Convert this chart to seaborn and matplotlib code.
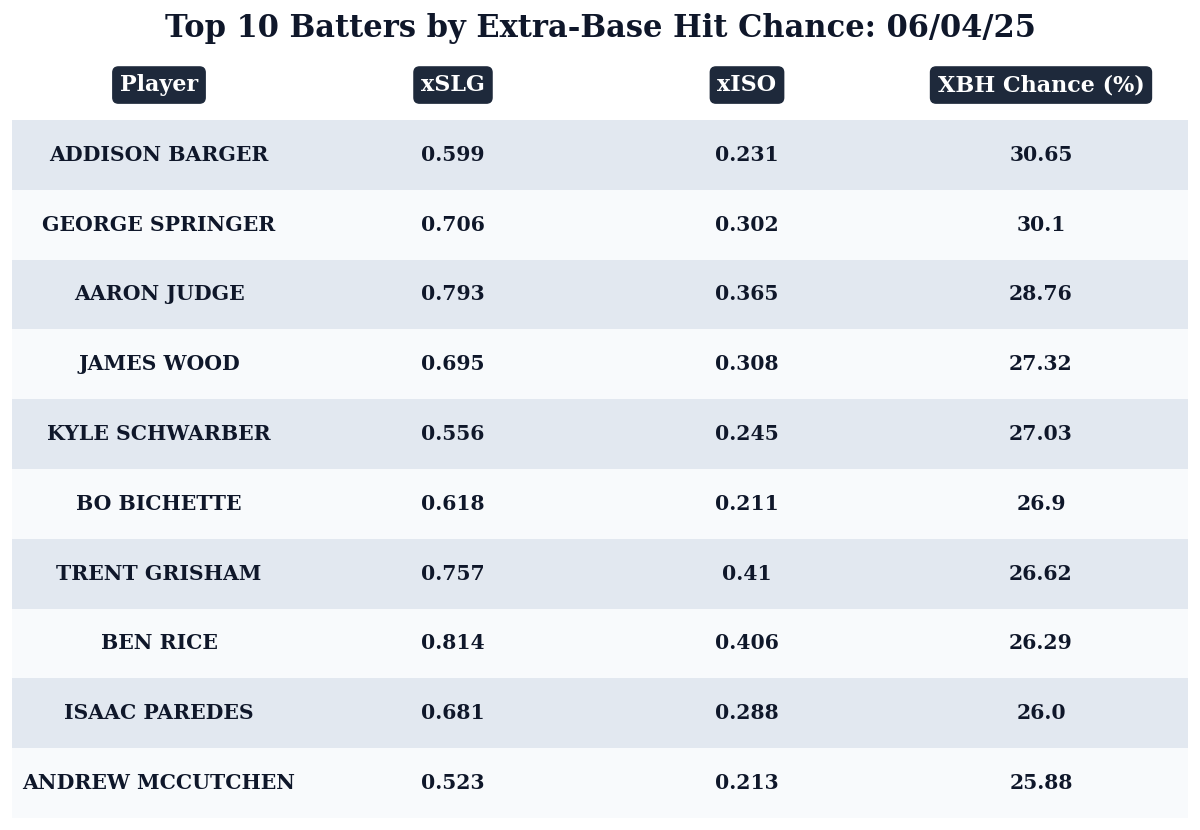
import numpy as np
import pandas as pd
import matplotlib
matplotlib.use("Agg")
import matplotlib.pyplot as plt
from matplotlib.colors import ListedColormap
import seaborn as sns

title = "Top 10 Batters by Extra-Base Hit Chance: 06/04/25"
columns = ["Player", "xSLG", "xISO", "XBH Chance (%)"]
players = ["ADDISON BARGER", "GEORGE SPRINGER", "AARON JUDGE", "JAMES WOOD",
           "KYLE SCHWARBER", "BO BICHETTE", "TRENT GRISHAM", "BEN RICE",
           "ISAAC PAREDES", "ANDREW MCCUTCHEN"]
xslg = [0.599, 0.706, 0.793, 0.695, 0.556, 0.618, 0.757, 0.814, 0.681, 0.523]
xiso = [0.231, 0.302, 0.365, 0.308, 0.245, 0.211, 0.41, 0.406, 0.288, 0.213]
xbh = [30.65, 30.1, 28.76, 27.32, 27.03, 26.9, 26.62, 26.29, 26.0, 25.88]

df = pd.DataFrame({"Player": players, "xSLG": xslg, "xISO": xiso,
                   "XBH Chance (%)": xbh})

sns.set_theme(style="white")
plt.rcParams["font.family"] = ["DejaVu Serif"]

dark = "#0f172a"
head = "#1e293b"
stripe = ListedColormap(["#e2e8f0", "#f8fafc"])

# row striping as a heatmap, cell text as annotations
shade = np.tile((np.arange(len(df)) % 2)[:, None], (1, len(columns)))
labels = df.astype(str).values

fig = plt.figure(figsize=(12, 8.3), dpi=100)
ax = fig.add_axes([0.01, 0.0145, 0.98, 0.841])
sns.heatmap(shade, cmap=stripe, annot=labels, fmt="", cbar=False, ax=ax,
            linewidths=0, vmin=0, vmax=1,
            annot_kws={"fontsize": 14.7, "fontweight": "bold", "color": dark})
for t in ax.texts:
    t.set_color(dark)
ax.set_xticks([])
ax.set_yticks([])
for s in ax.spines.values():
    s.set_visible(False)

for j, c in enumerate(columns):
    ax.text(j + 0.5, -0.5, c, ha="center", va="center", fontsize=16,
            fontweight="bold", color="white", clip_on=False,
            bbox=dict(boxstyle="round,pad=0.32,rounding_size=0.25",
                      fc=head, ec=head))

fig.text(0.5, 1 - 28 / 830, title, ha="center", va="center", fontsize=22,
         fontweight="bold", color=dark)

fig.savefig("out.png", dpi=100, facecolor="white")
